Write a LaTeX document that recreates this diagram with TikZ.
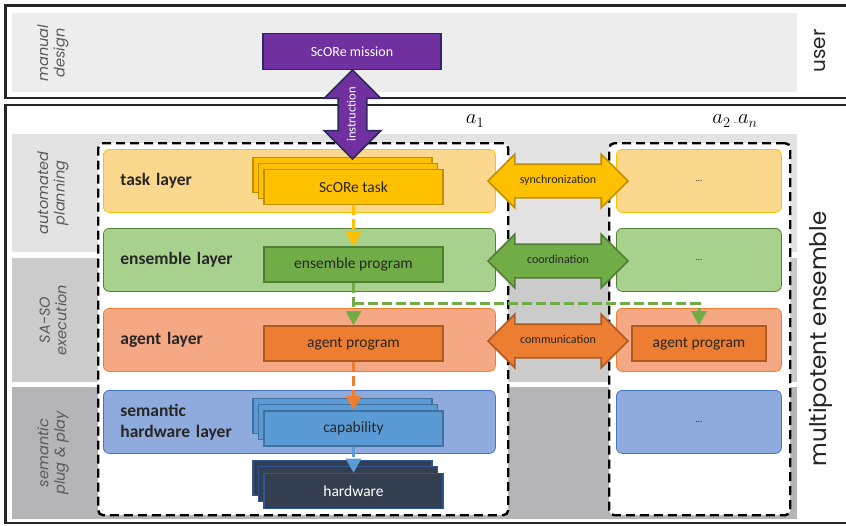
\documentclass[tikz,border=0pt]{standalone}
\usepackage{fontspec}
\setmainfont{Carlito}
\newfontfamily\gothic{Poppins}
\usetikzlibrary{arrows.meta, positioning, shapes.arrows, calc, backgrounds}
\definecolor{ink}{RGB}{38,38,38}
\definecolor{sidegray}{RGB}{89,89,89}
\definecolor{bandtop}{RGB}{237,237,237}
\definecolor{bandplan}{RGB}{227,227,227}
\definecolor{bandexec}{RGB}{203,203,203}
\definecolor{bandplug}{RGB}{181,181,183}
\definecolor{purp}{RGB}{112,48,160}
\definecolor{purpd}{RGB}{46,40,96}
\definecolor{gold}{RGB}{255,192,0}
\definecolor{goldd}{RGB}{191,144,0}
\definecolor{goldl}{RGB}{252,215,142}
\definecolor{grn}{RGB}{112,173,71}
\definecolor{grnd}{RGB}{80,126,50}
\definecolor{grnl}{RGB}{169,209,142}
\definecolor{grnb}{RGB}{84,130,53}
\definecolor{org}{RGB}{237,125,49}
\definecolor{orgd}{RGB}{174,90,33}
\definecolor{orgl}{RGB}{245,168,132}
\definecolor{blu}{RGB}{91,155,213}
\definecolor{blud}{RGB}{65,113,156}
\definecolor{blul}{RGB}{143,170,220}
\definecolor{blub}{RGB}{68,114,196}
\definecolor{hwfill}{RGB}{51,63,80}
\definecolor{hwdraw}{RGB}{47,85,151}

\begin{document}
\begin{tikzpicture}[
  x=1pt, y=-1pt,
  font=\fontsize{15.5}{18}\selectfont,
  frame/.style={draw=ink, line width=2.6pt},
  side/.style={rotate=90, align=center, text=sidegray,
               font=\gothic\itshape\fontsize{14.5}{16.5}\selectfont},
  big/.style={rotate=90, text=ink, font=\gothic\fontsize{20}{24}\selectfont},
  agentbox/.style={draw=black, line width=2.4pt, dash pattern=on 9pt off 5pt,
                   rounded corners=5pt, fill=white, anchor=north west},
  layer/.style={rounded corners=6pt, line width=0.8pt, anchor=north west,
                minimum height=63pt, text width=358pt, inner xsep=17pt,
                align=left, text=ink, font=\bfseries\fontsize{17.5}{21}\selectfont},
  rlayer/.style={rounded corners=6pt, line width=0.8pt, anchor=north west,
                 minimum height=63pt, minimum width=165pt, text=ink,
                 font=\fontsize{9}{10}\selectfont},
  prog/.style={minimum width=179pt, minimum height=35pt, inner sep=0pt,
               line width=1.6pt, text=ink},
  blockarrow/.style={double arrow, double arrow head extend=10pt,
                     minimum height=140pt, minimum width=52pt, inner xsep=2pt,
                     inner ysep=10.75pt, text height=8pt, text depth=2.5pt,
                     line width=1.6pt, text=ink, font=\fontsize{12}{13}\selectfont},
  flow/.style={line width=3pt, dash pattern=on 10pt off 4pt,
               -{Triangle[width=15pt, length=14pt, sep=0pt]}},
  alabel/.style={font=\fontsize{20}{24}\selectfont}
]
\useasboundingbox (0,0) rectangle (846,525);

% ---------- frames and bands ----------
\draw[frame] (5.5,5.3) rectangle (870,98);
\draw[frame] (5.5,105) rectangle (870,523);
\fill[bandtop]  (12,13)  rectangle (797,92);
\fill[bandplan] (12,134) rectangle (797,252);
\fill[bandexec] (12,258) rectangle (797,382);
\fill[bandplug] (12,387) rectangle (797,519);

\node[side] (lman)  at (53,53)  {manual\\design};
\node[side] (lplan) at (53,193) {automated\\planning};
\node[side] (lexec) at (53,320) {SA-SO\\execution};
\node[side] (lplug) at (53,453) {semantic\\plug \& play};
\node[big] (luser) at (820,51)  {user};
\node[big, font=\gothic\fontsize{23}{26}\selectfont] (lens) at (821,339) {multipotent ensemble};

% ---------- agents ----------
\node[agentbox, minimum width=410pt, minimum height=372pt] (a1box) at (97,142) {};
\node[agentbox, minimum width=181pt, minimum height=372pt] (anbox) at (608,142) {};
\node[alabel] (a1) at (475,121) {$a_1$};
\node[alabel] (an) at (735,121) {$a_2$\,{\fontsize{6}{6}\selectfont\ldots}$a_n$};

% ---------- layers ----------
\node[layer, fill=goldl, draw=gold] (tasklay) at (103,149) {task layer};
\node[layer, fill=grnl, draw=grnb] (enslay) at (103,228) {ensemble layer};
\node[layer, fill=orgl, draw=org] (agentlay) at (103,308) {agent layer};
\node[layer, fill=blul, draw=blub] (semlay) at (103,390) {semantic\\hardware layer};

\node[rlayer, fill=goldl, draw=gold] (tasklayR) at (616,149) {\ldots};
\node[rlayer, fill=grnl, draw=grnb] (enslayR) at (616,228) {\ldots};
\node[rlayer, fill=orgl, draw=org] (agentlayR) at (616,308) {};
\node[rlayer, fill=blul, draw=blub] (semlayR) at (616,390) {\ldots};

% ---------- user mission ----------
\node[prog, fill=purp, draw=purpd, minimum width=178pt, minimum height=36pt,
      text=white, font=\fontsize{14}{16}\selectfont] (mission) at (352,51.5) {ScORe mission};

% ---------- programs ----------
\node[prog, fill=gold, draw=goldd] (taskB) at (342.5,175) {};
\node[prog, fill=gold, draw=goldd] (taskM) at (348,181) {};
\node[prog, fill=gold, draw=goldd] (task) at (353.5,187) {ScORe task};
\node[prog, fill=grn, draw=grnd] (ensprog) at (353.5,264.5) {ensemble program};
\node[prog, fill=org, draw=orgd] (agentprog) at (353.5,343.5) {agent program};
\node[prog, fill=org, draw=orgd, minimum width=134pt] (agentprogR) at (699,343.5) {agent program};
\node[prog, fill=blu, draw=blud] (capB) at (342.5,416) {};
\node[prog, fill=blu, draw=blud] (capM) at (348,422) {};
\node[prog, fill=blu, draw=blud] (cap) at (353.5,428.5) {capability};
\node[prog, fill=hwfill, draw=hwdraw] (hwB) at (342.5,478) {};
\node[prog, fill=hwfill, draw=hwdraw] (hwM) at (348,484) {};
\node[prog, fill=hwfill, draw=hwdraw, text=white] (hw) at (353.5,491) {hardware};

% ---------- block arrows ----------
\node[blockarrow, fill=gold, draw=goldd] (sync) at (558,181) {synchronization};
\node[blockarrow, fill=grn, draw=grnd] (coord) at (558,261) {coordination};
\node[blockarrow, fill=org, draw=orgd] (comm) at (558,341) {communication};
\node[blockarrow, fill=purp, draw=purpd, rotate=90, minimum height=87pt,
      minimum width=55pt, double arrow head extend=14pt, inner ysep=8.5pt,
      text height=8pt, text depth=2pt, text=white,
      font=\fontsize{12.5}{14}\selectfont] (instr) at (352.5,114.5) {instruction};

% ---------- flows ----------
\coordinate (split) at ($(ensprog.south)+(0,21)$);
\draw[flow, gold] (task.south) -- (ensprog.north);
\draw[flow, grn] (ensprog.south) -- (agentprog.north);
\draw[flow, grn] (split) -| (agentprogR.north);
\draw[flow, org] (agentprog.south) -- (cap.north);
\draw[flow, blu] (cap.south) -- (hw.north);

\end{tikzpicture}
\end{document}
